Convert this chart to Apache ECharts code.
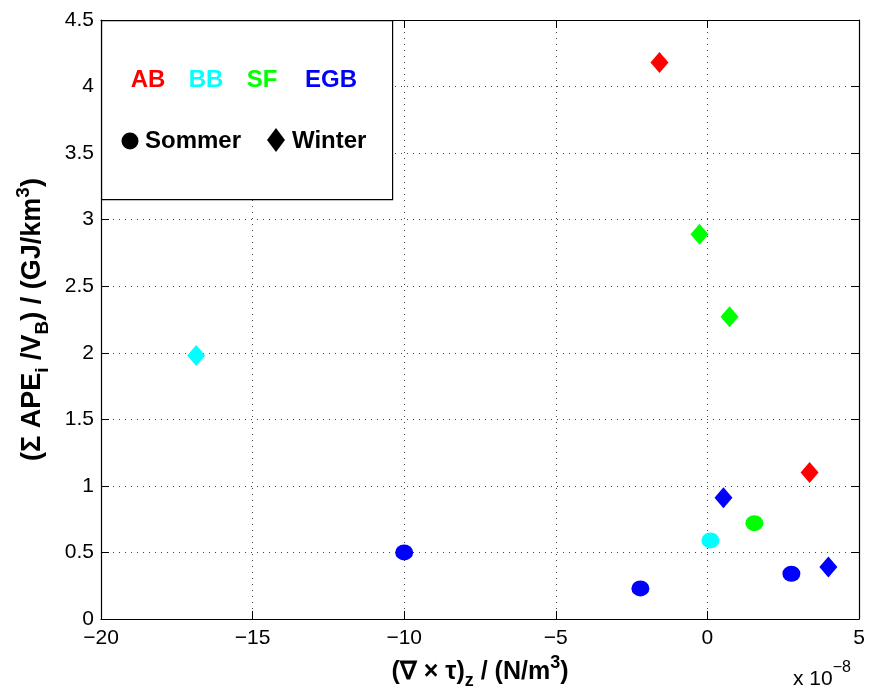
<!DOCTYPE html>
<html>
<head>
<meta charset="utf-8">
<script src="https://cdn.jsdelivr.net/npm/echarts@6/dist/echarts.min.js"></script>
<style>
  html, body { margin: 0; padding: 0; background: #fff; }
  #main { width: 869px; height: 695px; }
</style>
</head>
<body>
<div id="main"></div>
<script>
// x values in units of 1e-8 N/m^3, y in GJ/km^3
var abWinter = [[-1.58, 4.18], [3.37, 1.10]];
var bbSummer = [[0.10, 0.59]];
var bbWinter = [[-16.86, 1.98]];
var sfSummer = [[1.55, 0.72]];
var sfWinter = [[-0.26, 2.89], [0.73, 2.27]];
var egbSummer = [[-10.0, 0.50], [-2.21, 0.23], [2.77, 0.34]];
var egbWinter = [[0.53, 0.91], [3.99, 0.39]];

var font = 'Liberation Sans, Arial, sans-serif';
var circleSize = [18, 16];
var diamondSize = [18, 21];

function pts(data, color, symbol, size) {
  return {
    type: 'scatter',
    data: data,
    symbol: symbol,
    symbolSize: size,
    itemStyle: { color: color, opacity: 1 }
  };
}

// bold title style with sub/superscripts
function titleRich(size, small, lh) {
  return {
    a: { fontSize: size, fontWeight: 'bold', color: '#000', fontFamily: font, lineHeight: lh, verticalAlign: 'middle' },
    s: { fontSize: small, fontWeight: 'bold', color: '#000', fontFamily: font, verticalAlign: 'bottom', lineHeight: lh },
    p: { fontSize: small, fontWeight: 'bold', color: '#000', fontFamily: font, verticalAlign: 'top', lineHeight: lh }
  };
}

var myChart = echarts.init(document.getElementById('main'));
var dotted = { color: '#444', width: 1, type: [1, 5] };
var boxLine = { color: '#000', width: 1.2 };
var tick = { inside: true, length: 8, lineStyle: { color: '#000' } };

var option = {
  animation: false,
  backgroundColor: '#fff',
  textStyle: { fontFamily: font },
  grid: { left: 101, right: 10, top: 20, bottom: 76 },
  xAxis: [{
    type: 'value',
    min: -20, max: 5, interval: 5,
    position: 'bottom',
    axisLine: { onZero: false, lineStyle: boxLine },
    axisTick: tick,
    axisLabel: {
      color: '#000', fontSize: 21, margin: 9, fontFamily: font,
      formatter: function (v) { return String(v).replace('-', '\u2212'); }
    },
    splitLine: { show: true, lineStyle: dotted },
    name: '{a|(\u2207 \u00d7 \u03c4)}{s|z}{a| / (N/m}{p|3}{a|)}',
    nameLocation: 'middle',
    nameGap: 34,
    nameTextStyle: { rich: titleRich(25, 18, 36) }
  }, {
    type: 'value',
    min: -20, max: 5, interval: 5,
    position: 'top',
    axisLine: { onZero: false, lineStyle: boxLine },
    axisTick: tick,
    axisLabel: { show: false },
    splitLine: { show: false }
  }],
  yAxis: [{
    type: 'value',
    min: 0, max: 4.5, interval: 0.5,
    position: 'left',
    axisLine: { show: true, onZero: false, lineStyle: boxLine },
    axisTick: Object.assign({ show: true }, tick),
    axisLabel: { color: '#000', fontSize: 21, margin: 7, fontFamily: font },
    splitLine: { show: true, lineStyle: dotted },
    name: '{a|(\u03a3 APE}{s|i}{a| /V}{s|B}{a|) / (GJ/km}{p|3}{a|)}',
    nameLocation: 'middle',
    nameRotate: 90,
    nameGap: 49,
    nameTextStyle: { rich: titleRich(27, 19, 38) }
  }, {
    type: 'value',
    min: 0, max: 4.5, interval: 0.5,
    position: 'right',
    axisLine: { show: true, onZero: false, lineStyle: boxLine },
    axisTick: Object.assign({ show: true }, tick),
    axisLabel: { show: false },
    splitLine: { show: false }
  }],
  series: [
    pts(abWinter, '#ff0000', 'diamond', diamondSize),
    pts(bbSummer, '#00ffff', 'circle', circleSize),
    pts(bbWinter, '#00ffff', 'diamond', diamondSize),
    pts(sfSummer, '#00ff00', 'circle', circleSize),
    pts(sfWinter, '#00ff00', 'diamond', diamondSize),
    pts(egbSummer, '#0000ff', 'circle', circleSize),
    pts(egbWinter, '#0000ff', 'diamond', diamondSize)
  ],
  graphic: [
    // legend box
    { type: 'rect', left: 101, top: 20, z: 10,
      shape: { width: 291, height: 179 },
      style: { fill: '#fff', stroke: '#000', lineWidth: 1.2 } },
    { type: 'text', x: 148, y: 80, z: 11, style: { text: 'AB', fill: '#ff0000', font: 'bold 24px ' + font, align: 'center', verticalAlign: 'middle' } },
    { type: 'text', x: 206, y: 80, z: 11, style: { text: 'BB', fill: '#00ffff', font: 'bold 24px ' + font, align: 'center', verticalAlign: 'middle' } },
    { type: 'text', x: 262, y: 80, z: 11, style: { text: 'SF', fill: '#00ff00', font: 'bold 24px ' + font, align: 'center', verticalAlign: 'middle' } },
    { type: 'text', x: 331, y: 80, z: 11, style: { text: 'EGB', fill: '#0000ff', font: 'bold 24px ' + font, align: 'center', verticalAlign: 'middle' } },
    { type: 'circle', z: 11, shape: { cx: 130, cy: 141, r: 8.5 }, style: { fill: '#000' } },
    { type: 'text', x: 145, y: 141, z: 11, style: { text: 'Sommer', fill: '#000', font: 'bold 24px ' + font, align: 'left', verticalAlign: 'middle' } },
    { type: 'polygon', z: 11, shape: { points: [[276, 128], [285, 140], [276, 152], [267, 140]] }, style: { fill: '#000' } },
    { type: 'text', x: 292, y: 141, z: 11, style: { text: 'Winter', fill: '#000', font: 'bold 24px ' + font, align: 'left', verticalAlign: 'middle' } },
    // exponent label
    { type: 'text', x: 793, y: 660, z: 11, style: {
        text: '{a|x 10}{p|\u22128}',
        rich: {
          a: { fontSize: 21, fill: '#000', fontFamily: font, verticalAlign: 'bottom', lineHeight: 30 },
          p: { fontSize: 16, fill: '#000', fontFamily: font, verticalAlign: 'top', lineHeight: 30 }
        }
      } }
  ]
};

myChart.setOption(option);
window.onresize = myChart.resize;
</script>
</body>
</html>
